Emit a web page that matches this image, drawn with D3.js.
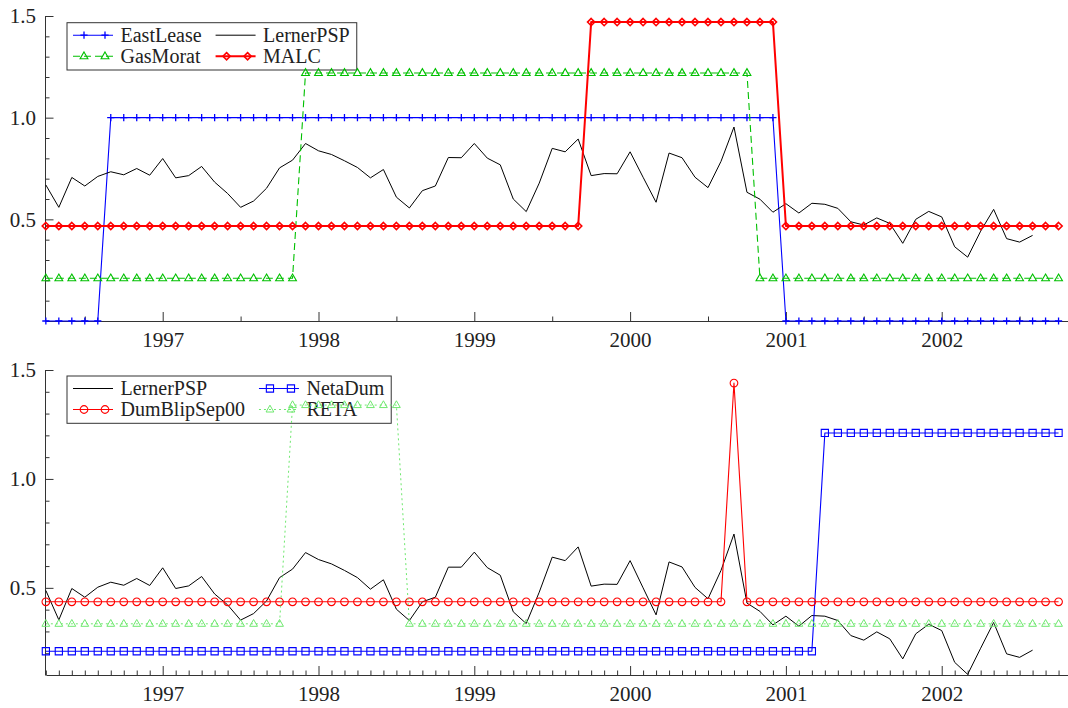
<!DOCTYPE html>
<html><head><meta charset="utf-8">
<script src="https://cdn.jsdelivr.net/npm/d3@7"></script>
<style>
body{margin:0;background:#fff}
svg{display:block}
text{font-family:"Liberation Serif","Times New Roman",Times,"DejaVu Serif",serif;fill:#222}
</style>
</head><body>
<svg id="c" width="1068" height="708"></svg>
<script>
// ---- data (monthly, starting 1996(4)) ----
const startYear = 1996, startMonth = 4;
const yearTicks = [1997, 1998, 1999, 2000, 2001, 2002];
const yTickLabels = [0.5, 1.0, 1.5];

const lernerTop = [
  0.669,0.559,0.706,0.664,0.711,0.734,0.719,0.750,0.717,
  0.799,0.704,0.715,0.760,0.683,0.627,0.559,0.590,0.653,0.753,0.791,0.873,
  0.837,0.819,0.788,0.755,0.704,0.745,0.609,0.556,0.641,0.664,0.804,0.803,
  0.873,0.801,0.768,0.600,0.538,0.678,0.849,0.832,0.895,0.715,0.725,0.724,
  0.832,0.707,0.584,0.826,0.803,0.707,0.656,0.785,0.954,0.633,0.599,0.535,
  0.577,0.531,0.579,0.574,0.554,0.488,0.472,0.507,0.480,0.382,0.500,0.539,
  0.512,0.365,0.314,0.442,0.549,0.405,0.388,0.421
];
const eastLease = [
  0,0,0,0,0,1,1,1,1,
  1,1,1,1,1,1,1,1,1,1,1,1,
  1,1,1,1,1,1,1,1,1,1,1,1,
  1,1,1,1,1,1,1,1,1,1,1,1,
  1,1,1,1,1,1,1,1,1,1,1,1,
  0,0,0,0,0,0,0,0,0,0,0,0,
  0,0,0,0,0,0,0,0,0,0
];
const gasMorat = [
  0.21,0.21,0.21,0.21,0.21,0.21,0.21,0.21,0.21,
  0.21,0.21,0.21,0.21,0.21,0.21,0.21,0.21,0.21,0.21,0.21,1.22,
  1.22,1.22,1.22,1.22,1.22,1.22,1.22,1.22,1.22,1.22,1.22,1.22,
  1.22,1.22,1.22,1.22,1.22,1.22,1.22,1.22,1.22,1.22,1.22,1.22,
  1.22,1.22,1.22,1.22,1.22,1.22,1.22,1.22,1.22,1.22,0.21,0.21,
  0.21,0.21,0.21,0.21,0.21,0.21,0.21,0.21,0.21,0.21,0.21,0.21,
  0.21,0.21,0.21,0.21,0.21,0.21,0.21,0.21,0.21,0.21
];
const malc = [
  0.467,0.467,0.467,0.467,0.467,0.467,0.467,0.467,0.467,
  0.467,0.467,0.467,0.467,0.467,0.467,0.467,0.467,0.467,0.467,0.467,0.467,
  0.467,0.467,0.467,0.467,0.467,0.467,0.467,0.467,0.467,0.467,0.467,0.467,
  0.467,0.467,0.467,0.467,0.467,0.467,0.467,0.467,0.467,1.47,1.47,1.47,
  1.47,1.47,1.47,1.47,1.47,1.47,1.47,1.47,1.47,1.47,1.47,1.47,
  0.467,0.467,0.467,0.467,0.467,0.467,0.467,0.467,0.467,0.467,0.467,0.467,
  0.467,0.467,0.467,0.467,0.467,0.467,0.467,0.467,0.467,0.467
];

const lernerBottom = [
  0.488,0.353,0.497,0.457,0.503,0.526,0.512,0.543,0.511,
  0.592,0.497,0.509,0.552,0.472,0.422,0.352,0.382,0.440,0.547,0.586,0.662,
  0.630,0.610,0.580,0.547,0.494,0.537,0.402,0.350,0.436,0.457,0.595,0.595,
  0.664,0.593,0.558,0.390,0.336,0.480,0.641,0.625,0.688,0.508,0.517,0.516,
  0.625,0.500,0.376,0.619,0.596,0.502,0.450,0.580,0.747,0.430,0.392,0.330,
  0.370,0.324,0.373,0.370,0.350,0.281,0.260,0.298,0.266,0.174,0.289,0.333,
  0.304,0.158,0.103,0.223,0.341,0.197,0.181,0.214
];
const dumBlipSep00 = [
  0.436,0.436,0.436,0.436,0.436,0.436,0.436,0.436,0.436,
  0.436,0.436,0.436,0.436,0.436,0.436,0.436,0.436,0.436,0.436,0.436,0.436,
  0.436,0.436,0.436,0.436,0.436,0.436,0.436,0.436,0.436,0.436,0.436,0.436,
  0.436,0.436,0.436,0.436,0.436,0.436,0.436,0.436,0.436,0.436,0.436,0.436,
  0.436,0.436,0.436,0.436,0.436,0.436,0.436,0.436,1.44,0.436,0.436,0.436,
  0.436,0.436,0.436,0.436,0.436,0.436,0.436,0.436,0.436,0.436,0.436,0.436,
  0.436,0.436,0.436,0.436,0.436,0.436,0.436,0.436,0.436,0.436
];
const netaDum = [
  0.209,0.209,0.209,0.209,0.209,0.209,0.209,0.209,0.209,
  0.209,0.209,0.209,0.209,0.209,0.209,0.209,0.209,0.209,0.209,0.209,0.209,
  0.209,0.209,0.209,0.209,0.209,0.209,0.209,0.209,0.209,0.209,0.209,0.209,
  0.209,0.209,0.209,0.209,0.209,0.209,0.209,0.209,0.209,0.209,0.209,0.209,
  0.209,0.209,0.209,0.209,0.209,0.209,0.209,0.209,0.209,0.209,0.209,0.209,
  0.209,0.209,0.209,1.211,1.211,1.211,1.211,1.211,1.211,1.211,1.211,1.211,
  1.211,1.211,1.211,1.211,1.211,1.211,1.211,1.211,1.211,1.211
];
const reta = [
  0.335,0.335,0.335,0.335,0.335,0.335,0.335,0.335,0.335,
  0.335,0.335,0.335,0.335,0.335,0.335,0.335,0.335,0.335,0.335,1.339,1.339,
  1.339,1.339,1.339,1.339,1.339,1.339,1.339,0.335,0.335,0.335,0.335,0.335,
  0.335,0.335,0.335,0.335,0.335,0.335,0.335,0.335,0.335,0.335,0.335,0.335,
  0.335,0.335,0.335,0.335,0.335,0.335,0.335,0.335,0.335,0.335,0.335,0.335,
  0.335,0.335,0.335,0.335,0.335,0.335,0.335,0.335,0.335,0.335,0.335,0.335,
  0.335,0.335,0.335,0.335,0.335,0.335,0.335,0.335,0.335,0.335
];

// ---- styling ----
const FONT = '"Liberation Serif","Times New Roman",Times,"DejaVu Serif",serif';
const BLUE = "#0000ff", RED = "#ff0000", GREEN = "#00c000", LGREEN = "#6ee86e";
const markers = {
  plus: "M-3.6,0H3.6M0,-3.6V3.6",
  tri: "M0,-4.3L3.9,2.5L-3.9,2.5Z",
  diamond: "M0,-3.6L3.6,0L0,3.6L-3.6,0Z",
  circle: d3.symbol(d3.symbolCircle, 46)(),
  square: "M-3.6,-3.6H3.6V3.6H-3.6Z"
};

const t = i => startYear + (startMonth - 1) / 12 + i / 12;
const svg = d3.select("#c");
const x = d3.scaleLinear().domain([1996.25, 2002.8106]).range([45.85, 1068]);

const panels = [
  {
    yDomain: [0, 1.5], yRange: [321, 16], minorX: "half",
    legendY: 22.7,
    series: [
      {name: "EastLease", values: eastLease, color: BLUE, width: 1.1, marker: "plus", mw: 1.3},
      {name: "LernerPSP", values: lernerTop, color: "#000", width: 1.0},
      {name: "GasMorat", values: gasMorat, color: GREEN, width: 1.1, dash: "7,4", marker: "tri", mw: 1.1},
      {name: "MALC", values: malc, color: RED, width: 2.0, marker: "diamond", mw: 1.6}
    ]
  },
  {
    yDomain: [0.1, 1.5], yRange: [675, 370], minorX: "month",
    legendY: 376,
    series: [
      {name: "LernerPSP", values: lernerBottom, color: "#000", width: 1.0},
      {name: "NetaDum", values: netaDum, color: BLUE, width: 1.1, marker: "square", mw: 1.1},
      {name: "DumBlipSep00", values: dumBlipSep00, color: RED, width: 1.1, marker: "circle", mw: 1.1},
      {name: "RETA", values: reta, color: LGREEN, width: 1.0, dash: "2,3", marker: "tri", mw: 1.0}
    ]
  }
];

panels.forEach(p => {
  const y = d3.scaleLinear().domain(p.yDomain).range(p.yRange);
  const g = svg.append("g");
  const axisY0 = p.yRange[0];

  // y axis: major
  g.append("g").attr("transform", `translate(${x.range()[0] - 0.85},0)`)
    .call(d3.axisLeft(y).tickValues(yTickLabels).tickSize(-8.5).tickSizeOuter(0)
      .tickPadding(9).tickFormat(d3.format(".1f")));
  // minor
  const minorY = d3.range(1, 15).map(k => k / 10).filter(v => v > p.yDomain[0] + 1e-6 && Math.abs(v - 0.5) > 1e-6 && Math.abs(v - 1) > 1e-6);
  g.append("g").attr("transform", `translate(${x.range()[0] - 0.85},0)`)
    .call(d3.axisLeft(y).tickValues(minorY).tickSize(-4.5).tickSizeOuter(0).tickFormat(""))
    .call(s => s.select(".domain").remove());

  // x axis major
  g.append("g").attr("transform", `translate(0,${axisY0})`)
    .call(d3.axisBottom(x).tickValues(yearTicks).tickSize(-9).tickSizeOuter(0)
      .tickPadding(11).tickFormat(d3.format("d")));
  const minorX = p.minorX === "half"
    ? d3.range(1996.5, 2002.8, 1)
    : d3.range(0, 80).map(t).filter(v => Math.abs(v - Math.round(v)) > 1e-6);
  g.append("g").attr("transform", `translate(0,${axisY0})`)
    .call(d3.axisBottom(x).tickValues(minorX).tickSize(-4.5).tickSizeOuter(0).tickFormat(""))
    .call(s => s.select(".domain").remove());

  g.selectAll("g").attr("font-family", FONT);
  g.selectAll(".domain, .tick line").attr("stroke", "#333").attr("stroke-width", 1);
  g.selectAll(".tick text").attr("font-size", 21).attr("fill", "#222")
    .attr("font-family", FONT).style("font-family", FONT);

  // legend
  const lg = g.append("g");
  const rowY = [p.legendY + 12.5, p.legendY + 33.5];
  const col1 = 73, textOff = 47.5;
  const order = [[0, 0, 0], [1, 1, 0], [2, 0, 1], [3, 1, 1]]; // series idx, col, row
  const tmp = lg.append("g");
  const col1Widths = order.filter(o => o[1] === 0).map(o => {
    const tt = tmp.append("text").attr("font-size", 20).style("font-family", FONT).text(p.series[o[0]].name);
    return tt.node().getComputedTextLength();
  });
  tmp.remove();
  const col2 = col1 + textOff + d3.max(col1Widths) + 14;
  let maxRight = 0;
  order.forEach(([si, col, row]) => {
    const s = p.series[si];
    const x0 = col === 0 ? col1 : col2, yy = rowY[row];
    lg.append("line").attr("x1", x0).attr("x2", x0 + 40).attr("y1", yy).attr("y2", yy)
      .attr("stroke", s.color).attr("stroke-width", s.width)
      .attr("stroke-dasharray", s.dash || null);
    if (s.marker) {
      [x0 + 11, x0 + 32].forEach(mx => lg.append("path").attr("d", markers[s.marker])
        .attr("transform", `translate(${mx},${yy})`).attr("fill", "none")
        .attr("stroke", s.color).attr("stroke-width", s.mw));
    }
    const tx = lg.append("text").attr("x", x0 + textOff).attr("y", yy).attr("dy", "0.34em")
      .attr("font-size", 20).style("font-family", FONT).text(s.name);
    maxRight = Math.max(maxRight, x0 + textOff + tx.node().getComputedTextLength());
  });
  lg.insert("rect", ":first-child").attr("x", 67).attr("y", p.legendY)
    .attr("width", maxRight + 7 - 67).attr("height", 47.3)
    .attr("fill", "none").attr("stroke", "#333").attr("stroke-width", 1);

  // series
  const line = d3.line().x((d, i) => x(t(i))).y(d => y(d));
  p.series.forEach(s => {
    g.append("path").datum(s.values).attr("d", line).attr("fill", "none")
      .attr("stroke", s.color).attr("stroke-width", s.width)
      .attr("stroke-dasharray", s.dash || null).attr("stroke-linejoin", "round");
    if (s.marker) {
      g.append("g").selectAll("path").data(s.values).join("path")
        .attr("d", markers[s.marker])
        .attr("transform", (d, i) => `translate(${x(t(i))},${y(d)})`)
        .attr("fill", "none").attr("stroke", s.color).attr("stroke-width", s.mw);
    }
  });
});
</script>
</body></html>
